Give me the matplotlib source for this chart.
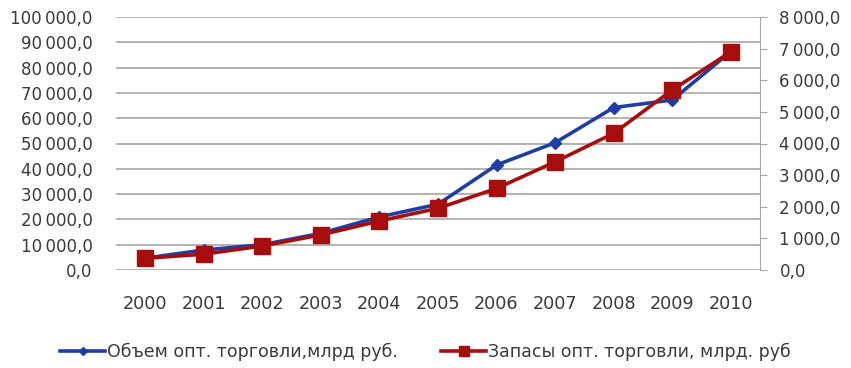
import numpy as np
import matplotlib.pyplot as plt
from matplotlib.ticker import FuncFormatter, MultipleLocator

years = ["2000", "2001", "2002", "2003", "2004", "2005",
         "2006", "2007", "2008", "2009", "2010"]
# wholesale turnover, bn rub (left axis)
volume = [4700, 7900, 10000, 14500, 21000, 26000,
          41500, 50300, 64200, 67200, 86300]
# wholesale stocks, bn rub (right axis)
stocks = [370, 500, 760, 1110, 1550, 1950,
          2580, 3420, 4320, 5690, 6900]

label_volume = "Объем опт. торговли,млрд руб."
label_stocks = "Запасы опт. торговли, млрд. руб"

txt = "#3a3a3a"
grid_c = "#a6a6a6"


def ru_fmt(v, pos):
    s = "{:,.1f}".format(v)
    return s.replace(",", "\u2009").replace(".", ",")


plt.rcParams['font.family'] = ['DejaVu Sans']

fig = plt.figure(figsize=(8.51, 3.68), dpi=100)
ax = fig.add_axes([116 / 851, 1 - 270 / 368, 644 / 851, 253 / 368])
ax2 = ax.twinx()

x = np.arange(len(years))

ax.plot(x, volume, "-D", color="#1f3ea3", lw=2.6, ms=6.5, label=label_volume)
ax2.plot(x, stocks, "-s", color="#a80d0d", lw=2.6, ms=11.5, label=label_stocks)

ax.set_xlim(-0.5, len(years) - 0.5)
ax.set_ylim(0, 100000)
ax2.set_ylim(0, 8000)
ax.yaxis.set_major_locator(MultipleLocator(10000))
ax2.yaxis.set_major_locator(MultipleLocator(1000))
ax.yaxis.set_major_formatter(FuncFormatter(ru_fmt))
ax2.yaxis.set_major_formatter(FuncFormatter(ru_fmt))

ax.grid(axis="y", color=grid_c, lw=1.2)
ax.set_axisbelow(True)

for a in (ax, ax2):
    for s in ("top", "left", "bottom"):
        a.spines[s].set_visible(False)
ax.spines["right"].set_visible(False)
ax2.spines["right"].set_color(grid_c)

ax.set_xticks(x)
ax.set_xticklabels(years)
ax.tick_params(axis="x", length=0, pad=18, labelsize=12.7, labelcolor=txt)
ax.tick_params(axis="y", length=0, pad=17, labelsize=12, labelcolor=txt)
ax2.tick_params(axis="y", length=5, color=grid_c, pad=9,
                labelsize=12, labelcolor=txt)

h1, l1 = ax.get_legend_handles_labels()
h2, l2 = ax2.get_legend_handles_labels()
fig.legend(h1 + h2, l1 + l2, loc="center", bbox_to_anchor=(0.5, 1 - 352 / 368),
           ncol=2, frameon=False, fontsize=12.5, handlelength=2.6,
           handletextpad=0.1, columnspacing=2.5, labelcolor=txt,
           markerscale=0.65)

fig.savefig("out.png", dpi=100)
